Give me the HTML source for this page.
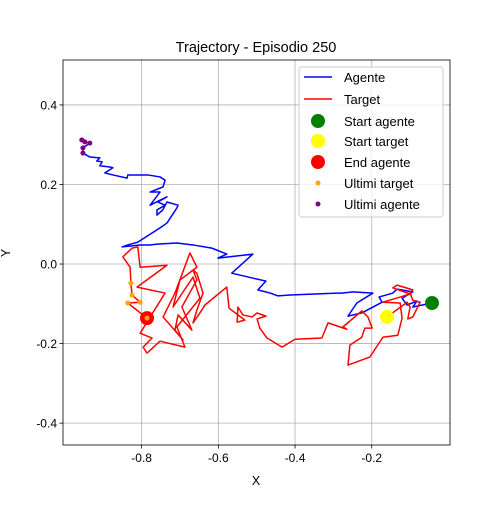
<!DOCTYPE html>
<html><head><meta charset="utf-8"><style>
body{margin:0;background:#fff;}
svg{font-family:"Liberation Sans","DejaVu Sans",sans-serif;}
</style></head><body>
<svg id="c" width="500" height="500" viewBox="0 0 500 500"></svg>
<script>
const xTicks=[-0.8,-0.6,-0.4,-0.2];
const yTicks=[-0.4,-0.2,0.0,0.2,0.4];
const agentX=[-0.043,-0.093,-0.082,-0.108,-0.121,-0.093,-0.134,-0.145,-0.181,-0.173,-0.226,-0.262,-0.239,-0.197,-0.249,-0.278,-0.291,-0.413,-0.445,-0.465,-0.497,-0.476,-0.512,-0.565,-0.510,-0.601,-0.578,-0.617,-0.666,-0.708,-0.760,-0.778,-0.804,-0.851,-0.836,-0.810,-0.752,-0.734,-0.708,-0.705,-0.734,-0.745,-0.760,-0.760,-0.739,-0.758,-0.734,-0.778,-0.752,-0.778,-0.744,-0.739,-0.752,-0.784,-0.836,-0.838,-0.875,-0.896,-0.875,-0.883,-0.909,-0.903,-0.917,-0.909,-0.935,-0.953,-0.953,-0.935,-0.948,-0.956];
const agentY=[-0.098,-0.108,-0.093,-0.103,-0.086,-0.070,-0.063,-0.073,-0.083,-0.096,-0.123,-0.131,-0.098,-0.073,-0.070,-0.073,-0.073,-0.078,-0.080,-0.073,-0.065,-0.043,-0.035,-0.023,0.025,0.015,0.025,0.040,0.048,0.053,0.050,0.048,0.048,0.043,0.048,0.055,0.091,0.103,0.141,0.148,0.156,0.136,0.123,0.136,0.148,0.156,0.169,0.148,0.181,0.181,0.194,0.211,0.219,0.224,0.224,0.216,0.224,0.229,0.242,0.244,0.247,0.257,0.259,0.267,0.269,0.279,0.292,0.304,0.307,0.312];
const targetX=[-0.160,-0.108,-0.100,-0.106,-0.093,-0.074,-0.093,-0.100,-0.093,-0.134,-0.145,-0.100,-0.126,-0.171,-0.126,-0.121,-0.132,-0.171,-0.205,-0.262,-0.257,-0.226,-0.218,-0.199,-0.210,-0.226,-0.275,-0.265,-0.314,-0.330,-0.400,-0.434,-0.473,-0.492,-0.499,-0.476,-0.499,-0.512,-0.536,-0.549,-0.551,-0.531,-0.572,-0.578,-0.635,-0.648,-0.666,-0.656,-0.640,-0.656,-0.666,-0.656,-0.695,-0.669,-0.705,-0.713,-0.692,-0.744,-0.713,-0.674,-0.656,-0.700,-0.718,-0.692,-0.666,-0.648,-0.708,-0.687,-0.752,-0.786,-0.796,-0.773,-0.804,-0.739,-0.812,-0.734,-0.804,-0.810,-0.825,-0.849,-0.830,-0.828,-0.825,-0.804,-0.836,-0.786];
const targetY=[-0.133,-0.096,-0.108,-0.138,-0.133,-0.096,-0.091,-0.073,-0.065,-0.053,-0.060,-0.075,-0.083,-0.096,-0.098,-0.136,-0.179,-0.184,-0.234,-0.254,-0.204,-0.184,-0.161,-0.161,-0.133,-0.118,-0.158,-0.164,-0.148,-0.186,-0.189,-0.209,-0.186,-0.161,-0.138,-0.131,-0.123,-0.133,-0.128,-0.108,-0.146,-0.141,-0.111,-0.058,-0.103,-0.123,-0.148,-0.116,-0.073,-0.023,-0.015,-0.040,-0.108,-0.166,-0.128,-0.166,-0.191,-0.133,-0.073,0.028,-0.008,-0.040,-0.108,-0.070,-0.033,-0.086,-0.158,-0.209,-0.194,-0.224,-0.209,-0.186,-0.174,-0.073,-0.058,-0.003,-0.008,0.043,0.040,0.018,-0.008,-0.048,-0.078,-0.096,-0.098,-0.136];

const NS="http://www.w3.org/2000/svg";
const svg=document.getElementById('c');
const L=63,R=450,T=60,B=445;
const xmin=-1.005,xmax=0.004,ymin=-0.455,ymax=0.513;
function sx(v){return L+(v-xmin)/(xmax-xmin)*(R-L);}
function sy(v){return B-(v-ymin)/(ymax-ymin)*(B-T);}
function el(tag,attrs,parent){const e=document.createElementNS(NS,tag);for(const k in attrs)e.setAttribute(k,attrs[k]);(parent||svg).appendChild(e);return e;}

const grid=el('g',{});


xTicks.forEach(t=>{
  const x=sx(t);
  el('line',{x1:x,x2:x,y1:T,y2:B,stroke:'#b0b0b0','stroke-width':0.8},grid);
  el('line',{x1:x,x2:x,y1:B,y2:B+3.5,stroke:'#000','stroke-width':0.8});
  const tx=el('text',{x:x,y:B+17,'font-size':12,'text-anchor':'middle'});
  tx.textContent=t.toFixed(1);
  
  
});
yTicks.forEach(t=>{
  const y=sy(t);
  el('line',{x1:L,x2:R,y1:y,y2:y,stroke:'#b0b0b0','stroke-width':0.8},grid);
  el('line',{x1:L-3.5,x2:L,y1:y,y2:y,stroke:'#000','stroke-width':0.8});
  const tx=el('text',{x:L-6,y:y+4.5,'font-size':12,'text-anchor':'end'});
  tx.textContent=t.toFixed(1);
  
  
});

function poly(xs,ys,color,name){
  const p=el('polyline',{points:xs.map((v,i)=>sx(v)+','+sy(ys[i])).join(' '),fill:'none',stroke:color,'stroke-width':1.5,'stroke-linejoin':'round'});
  
  
}
poly(agentX,agentY,'#0000ff','agent-line');
poly(targetX,targetY,'#ff0000','target-line');

function dot(x,y,r,c,name){
  const d=el('circle',{cx:sx(x),cy:sy(y),r:r,fill:c});
  
  
}
const nA=agentX.length,nT=targetX.length;
dot(agentX[0],agentY[0],7,'#008000','start-agent-marker');
dot(targetX[0],targetY[0],7,'#ffff00','start-target-marker');
dot(targetX[nT-1],targetY[nT-1],7,'#ff0000','end-agent-marker');
for(let i=nT-5;i<nT;i++)dot(targetX[i],targetY[i],2.5,'#ffa500','last-target-point');
for(let i=nA-5;i<nA;i++)dot(agentX[i],agentY[i],2.5,'#800080','last-agent-point');

el('rect',{x:L,y:T,width:R-L,height:B-T,fill:'none',stroke:'#000','stroke-width':0.8});
</script>
<svg width="500" height="500" style="position:absolute;left:0;top:0">
<text x="256" y="52" font-size="14.5" text-anchor="middle" font-family="Liberation Sans, sans-serif">Trajectory - Episodio 250</text>
<text x="256" y="485" font-size="12.5" text-anchor="middle" font-family="Liberation Sans, sans-serif">X</text>
<text x="10" y="253" font-size="12.5" text-anchor="middle" transform="rotate(-90 10 253)" font-family="Liberation Sans, sans-serif">Y</text>
<g font-family="Liberation Sans, sans-serif" font-size="13">
<rect x="299" y="67" width="144" height="150" rx="3" fill="#fff" fill-opacity="0.8" stroke="#ccc"/>
<g><line x1="304" x2="332" y1="77" y2="77" stroke="#0000ff" stroke-width="1.5"/><text x="344" y="82">Agente</text></g>
<g><line x1="304" x2="332" y1="99" y2="99" stroke="#ff0000" stroke-width="1.5"/><text x="344" y="104">Target</text></g>
<g><circle cx="318" cy="121" r="7" fill="#008000"/><text x="344" y="126">Start agente</text></g>
<g><circle cx="318" cy="141" r="7" fill="#ffff00"/><text x="344" y="146">Start target</text></g>
<g><circle cx="318" cy="162" r="7" fill="#ff0000"/><text x="344" y="167">End agente</text></g>
<g><circle cx="318" cy="183" r="2.5" fill="#ffa500"/><text x="344" y="188">Ultimi target</text></g>
<g><circle cx="318" cy="204" r="2.5" fill="#800080"/><text x="344" y="209">Ultimi agente</text></g>
</g>
</svg>
</body></html>
